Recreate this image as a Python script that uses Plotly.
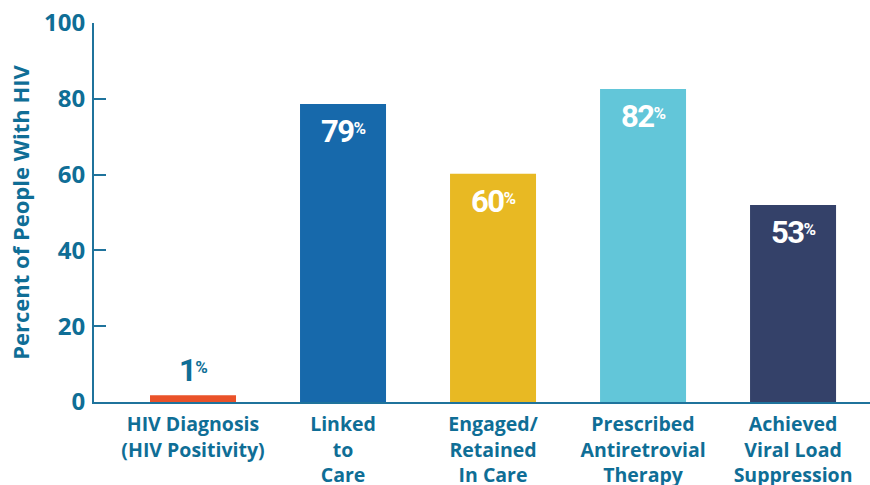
import plotly.graph_objects as go

categories = ["HIV Diagnosis<br>(HIV Positivity)", "Linked<br>to<br>Care", "Engaged/<br>Retained<br>In Care",
              "Prescribed<br>Antiretrovial<br>Therapy", "Achieved<br>Viral Load<br>Suppression"]
values = [1.8, 78.6, 60.2, 82.6, 52.0]
labels = ["1", "79", "60", "82", "53"]
colors = ["#ea5229", "#1769ab", "#e8b923", "#62c6d9", "#344169"]
y_ticks = [0, 20, 40, 60, 80, 100]

TEAL = "#0f6e96"
AXIS = "#1f739c"

fig = go.Figure()
fig.add_trace(go.Bar(x=categories, y=values, marker=dict(color=colors, line=dict(width=0)),
                     hoverinfo="skip"))

num_font = "Liberation Sans Narrow, Roboto, Open Sans"
for i, (c, v, lab) in enumerate(zip(categories, values, labels)):
    text = (f"<span style='font-size:31px;letter-spacing:-1.5px'><b>{lab}</b></span>"
            f"<sup><span style='font-size:17px'><b>%</b></span></sup>")
    if v < 10:
        fig.add_annotation(x=c, y=v, text=text, showarrow=False, yanchor="bottom", yshift=4,
                           font=dict(family=num_font, size=20, color=TEAL))
    else:
        fig.add_annotation(x=c, y=v, text=text, showarrow=False, yanchor="top", yshift=-7,
                           font=dict(family=num_font, size=20, color="white"))

fig.update_layout(
    width=870, height=485,
    margin=dict(l=94, r=0, t=23, b=83),
    paper_bgcolor="white", plot_bgcolor="white",
    bargap=0.4267,
    showlegend=False,
    font=dict(family="Open Sans", color=TEAL),
    xaxis=dict(range=[-0.66, 4.513], showline=True, linecolor=AXIS, linewidth=2,
               ticks="", showgrid=False, zeroline=False, ticklabelstandoff=4, automargin=False,
               tickfont=dict(family="Open Sans", size=19.5, color=TEAL, weight="bold")),
    yaxis=dict(range=[0, 100], tickvals=y_ticks, showline=True, linecolor=AXIS, linewidth=2,
               ticks="inside", ticklen=12, tickwidth=2, tickcolor=AXIS, automargin=False,
               showgrid=False, zeroline=False, ticklabelstandoff=2,
               tickfont=dict(family="Open Sans", size=24, color=TEAL, weight="bold"),
               title=dict(text="Percent of People With HIV", standoff=8,
                          font=dict(family="Open Sans", size=22, color=TEAL, weight="bold"))),
)

fig.write_html("out.html")
